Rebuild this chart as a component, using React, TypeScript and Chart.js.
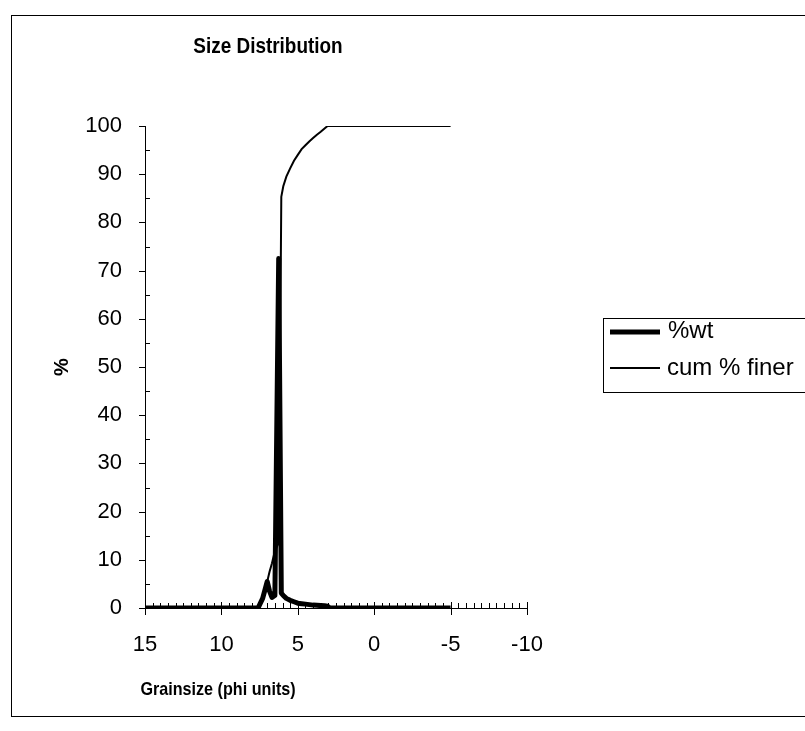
import React, { useEffect, useRef } from "react";
import { Chart, registerables } from "chart.js";

Chart.register(...registerables);

const phiValues = [15, 14, 13, 12, 11, 10, 9, 8, 7.6, 7.3, 7.0, 6.85, 6.69, 6.5, 6.25, 6.08, 5.95, 5.75, 5.5, 5.25, 5.0, 4.75, 4.5, 4.25, 4.0, 3.75, 3.5, 3.25, 3.05, 2.9, 2, 1, 0, -1, -2, -3, -4, -5];
const wtValues = [0, 0, 0, 0, 0, 0, 0, 0, 0, 2.0, 5.5, 3.5, 2.2, 2.6, 72.5, 3.1, 2.6, 2.0, 1.6, 1.3, 1.0, 0.9, 0.8, 0.7, 0.6, 0.55, 0.5, 0.45, 0.35, 0, 0, 0, 0, 0, 0, 0, 0, 0];
const cumValues = [0, 0, 0, 0, 0, 0, 0, 0, 0, 2.0, 5.5, 7.5, 9.3, 11.8, 13.5, 85.3, 87.5, 89.5, 91.2, 92.8, 94.0, 95.2, 96.0, 96.8, 97.5, 98.2, 98.8, 99.5, 100, 100, 100, 100, 100, 100, 100, 100, 100, 100];
const seriesNames = ["%wt", "cum % finer"];
const xTicks = [15, 10, 5, 0, -5, -10];
const yTicks = [0, 10, 20, 30, 40, 50, 60, 70, 80, 90, 100];
const chartTitle = "Size Distribution";
const xTitle = "Grainsize (phi units)";
const yTitle = "%";

const FONT = "'Liberation Sans', Arial, sans-serif";

function condensedText(ctx: any, text: string, x: number, y: number, sx: number) {
  ctx.save();
  ctx.translate(x, y);
  ctx.scale(sx, 1);
  ctx.fillText(text, 0, 0);
  ctx.restore();
}

const decorPlugin = {
  id: "decor",
  beforeDraw(chart: any) {
    const ctx = chart.ctx;
    ctx.save();
    ctx.fillStyle = "#fff";
    ctx.fillRect(0, 0, chart.width, chart.height);
    ctx.strokeStyle = "#000";
    ctx.lineWidth = 1;
    ctx.strokeRect(11.5, 15.5, 820, 701);
    ctx.fillStyle = "#000";
    ctx.textAlign = "center";
    ctx.textBaseline = "middle";
    ctx.font = `bold 22px ${FONT}`;
    condensedText(ctx, chartTitle, 268, 47, 0.86);
    ctx.font = `bold 19px ${FONT}`;
    condensedText(ctx, xTitle, 218, 690, 0.85);
    ctx.save();
    ctx.translate(62, 367);
    ctx.rotate(-Math.PI / 2);
    ctx.font = `bold 20px ${FONT}`;
    ctx.fillText(yTitle, 0, 0);
    ctx.restore();
    // legend
    ctx.strokeRect(603.5, 318.5, 300, 74);
    ctx.lineWidth = 5;
    ctx.beginPath();
    ctx.moveTo(610, 332);
    ctx.lineTo(660, 332);
    ctx.stroke();
    ctx.lineWidth = 2;
    ctx.beginPath();
    ctx.moveTo(610, 368);
    ctx.lineTo(660, 368);
    ctx.stroke();
    ctx.textAlign = "left";
    ctx.font = `24px ${FONT}`;
    ctx.fillText(seriesNames[0], 668, 331);
    ctx.fillText(seriesNames[1], 667, 368);
    ctx.restore();
  },
  beforeDatasetsDraw(chart: any) {
    const ctx = chart.ctx;
    const xs = chart.scales.x;
    const ys = chart.scales.y;
    const { left, right, top, bottom } = chart.chartArea;
    ctx.save();
    ctx.strokeStyle = "#000";
    ctx.lineWidth = 1;
    ctx.beginPath();
    ctx.moveTo(left + 0.5, top);
    ctx.lineTo(left + 0.5, bottom + 0.5);
    ctx.lineTo(right, bottom + 0.5);
    ctx.stroke();
    ctx.beginPath();
    for (let v = 0; v <= 100; v += 5) {
      const y = Math.round(ys.getPixelForValue(v)) + 0.5;
      if (v % 10 === 0) {
        ctx.moveTo(left - 6, y);
        ctx.lineTo(left, y);
      } else {
        ctx.moveTo(left, y);
        ctx.lineTo(left + 5, y);
      }
    }
    for (let k = -20; k <= 30; k++) {
      const v = k / 2;
      const x = Math.round(xs.getPixelForValue(v)) + 0.5;
      if (k % 10 === 0) {
        ctx.moveTo(x, bottom - 6);
        ctx.lineTo(x, bottom + 7);
      } else {
        ctx.moveTo(x, bottom - 5);
        ctx.lineTo(x, bottom);
      }
    }
    ctx.stroke();
    ctx.restore();
  },
};

export default function App() {
  const ref = useRef<HTMLCanvasElement | null>(null);
  useEffect(() => {
    if (!ref.current) return;
    const chart = new Chart(ref.current, {
      type: "line",
      data: {
        datasets: [
          {
            label: seriesNames[0],
            data: phiValues.map((x, i) => ({ x, y: wtValues[i] })),
            borderColor: "#000",
            borderWidth: 5,
            pointRadius: 0,
            tension: 0,
            borderJoinStyle: "round",
            borderCapStyle: "butt",
          },
          {
            label: seriesNames[1],
            data: phiValues.map((x, i) => ({ x, y: cumValues[i] })),
            borderColor: "#000",
            borderWidth: 2,
            pointRadius: 0,
            tension: 0,
          },
        ],
      },
      options: {
        responsive: false,
        animation: false,
        layout: { padding: { left: 0, top: 126, right: 278, bottom: 0 } },
        plugins: { legend: { display: false }, title: { display: false }, tooltip: { enabled: false } },
        scales: {
          x: {
            type: "linear",
            reverse: true,
            min: -10,
            max: 15,
            afterBuildTicks: (s: any) => {
              s.ticks = xTicks.map((v) => ({ value: v }));
            },
            afterFit: (s: any) => {
              s.height = 123;
            },
            ticks: { color: "#000", font: { family: FONT, size: 22 }, padding: 24, maxRotation: 0 },
            grid: { display: false, drawTicks: false },
            border: { display: false },
          },
          y: {
            min: 0,
            max: 100,
            afterBuildTicks: (s: any) => {
              s.ticks = yTicks.map((v) => ({ value: v }));
            },
            afterFit: (s: any) => {
              s.width = 145;
            },
            ticks: { color: "#000", font: { family: FONT, size: 22 }, padding: 23 },
            grid: { display: false, drawTicks: false },
            border: { display: false },
          },
        },
      },
      plugins: [decorPlugin],
    } as any);
    return () => chart.destroy();
  }, []);
  return (
    <div style={{ position: "absolute", left: 0, top: 0, width: 805, height: 731 }}>
      <canvas ref={ref} width={805} height={731} style={{ display: "block" }} />
    </div>
  );
}
